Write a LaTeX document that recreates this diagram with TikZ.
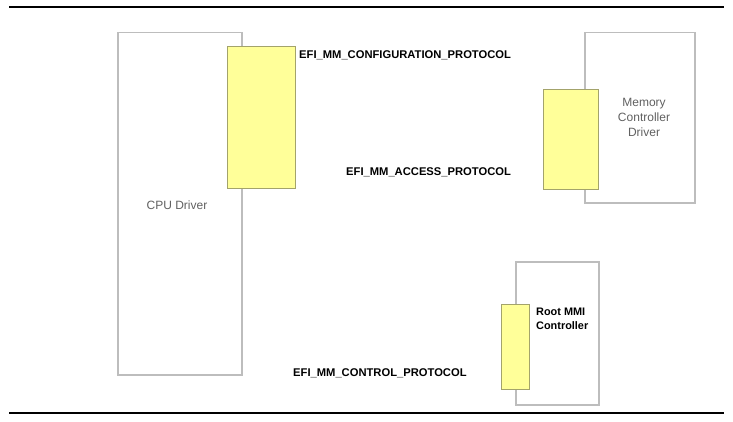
\documentclass[tikz,border=0pt]{standalone}
\usepackage{fontspec}
\setmainfont{Liberation Sans}
\definecolor{boxgray}{HTML}{BDBDBD}
\definecolor{ifyellow}{HTML}{FFFF99}
\definecolor{ifedge}{HTML}{A3A36B}
\begin{document}
\begin{tikzpicture}[x=1pt,y=-1pt,
  driver/.style={draw=boxgray, line width=1.5pt, fill=white, inner sep=0pt, anchor=north west},
  iface/.style={draw=ifedge, fill=ifyellow, line width=0.9pt, inner sep=0pt, anchor=north west},
  proto/.style={font=\fontsize{11.2}{12}\selectfont\bfseries, anchor=west, inner sep=0pt},
  drvlabel/.style={font=\fontsize{12}{15}\selectfont, text=black!62, align=center, inner sep=0pt}]
  \useasboundingbox (0,0) rectangle (733,422);
  % rules
  \draw[line width=2.8pt] (9,7) -- (724,7);
  \draw[line width=2.8pt] (9,413) -- (724,413);
  % drivers
  \node[driver, minimum width=124pt, minimum height=342pt] (cpu) at (117,32) {};
  \node[driver, minimum width=110pt, minimum height=170pt] (mem) at (584,32) {};
  \node[driver, minimum width=83pt, minimum height=143pt] (root) at (515,261) {};
  % protocol interfaces
  \node[iface, minimum width=68pt, minimum height=142pt] (cfgif) at (227,46) {};
  \node[iface, minimum width=55pt, minimum height=100pt] (accif) at (543,89) {};
  \node[iface, minimum width=28pt, minimum height=85pt] (ctlif) at (501,304) {};
  % labels
  \node[drvlabel] (cpulbl) at (177,205) {CPU Driver};
  \node[drvlabel] (memlbl) at (644,117) {Memory\\Controller\\Driver};
  \node[font=\fontsize{10.9}{14}\selectfont\bfseries, align=left, anchor=west, inner sep=0pt] (rootlbl) at (536,319) {Root MMI\\Controller};
  \node[proto] (cfgp) at (299,55) {EFI\_MM\_CONFIGURATION\_PROTOCOL};
  \node[proto] (accp) at (346,172) {EFI\_MM\_ACCESS\_PROTOCOL};
  \node[proto] (ctlp) at (293,373) {EFI\_MM\_CONTROL\_PROTOCOL};
\end{tikzpicture}
\end{document}
